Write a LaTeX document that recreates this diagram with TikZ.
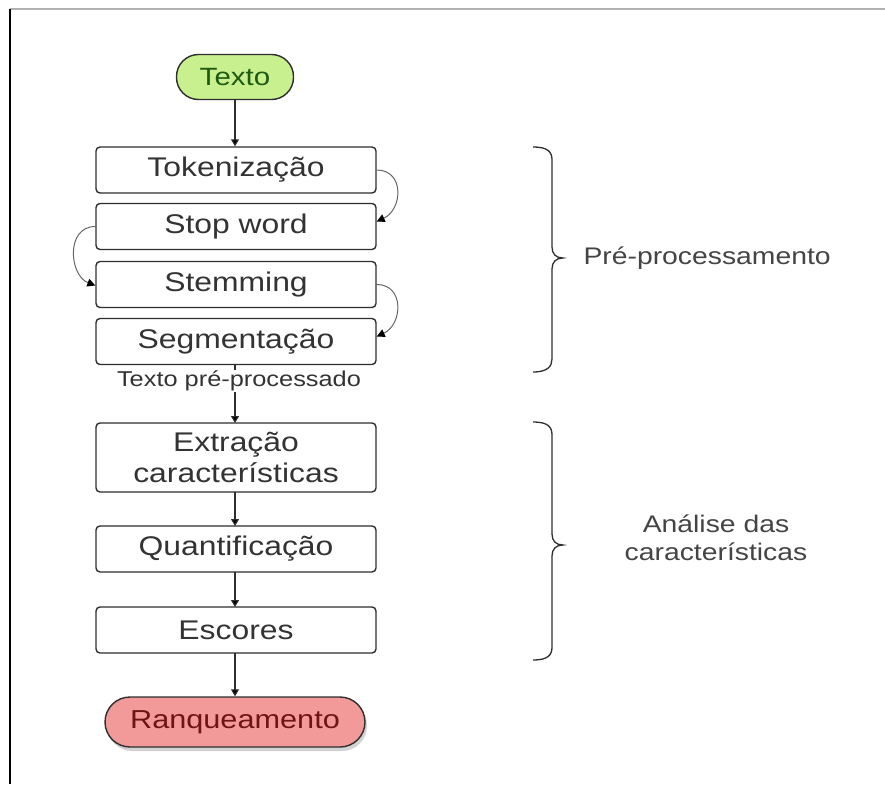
\documentclass[tikz,border=0pt]{standalone}
\usepackage{fontspec}
\setmainfont{Liberation Sans}[FakeStretch=1.18]
\usetikzlibrary{arrows.meta,shapes.geometric,shadows}
\definecolor{boxline}{HTML}{2E2E2E}
\definecolor{txtgray}{HTML}{333333}
\definecolor{lblgray}{HTML}{444444}
\definecolor{greenfill}{HTML}{C9F08F}
\definecolor{greentxt}{HTML}{1F5A12}
\definecolor{redfill}{HTML}{F29A9A}
\definecolor{redtxt}{HTML}{6E1414}
\tikzset{
  stepbox/.style={draw=boxline, line width=1.4pt, rounded corners=4pt, fill=white,
    minimum width=280pt, minimum height=46pt, text=txtgray, align=center,
    font=\fontsize{27}{31}\selectfont, inner sep=0pt},
  flow/.style={draw=boxline, line width=1.1pt, -{Triangle[length=7pt,width=8pt,fill=black]}},
  curv/.style={draw=gray!80!black, line width=1pt, -{Triangle[length=8pt,width=8pt,fill=black,color=black]}},
  brace/.style={draw=boxline, line width=1.3pt},
  sidelbl/.style={text=lblgray, font=\fontsize{24}{28}\selectfont, align=center}
}
\begin{document}
\begin{tikzpicture}[x=1pt,y=-1pt]
\useasboundingbox (0,0) rectangle (885,784);
% frame
\draw[gray!60, line width=1.5pt] (10,9) -- (885,9);
\draw[black, line width=1.8pt] (10,9) -- (10,784);
% nodes
\node[draw=boxline, line width=1.4pt, fill=greenfill, text=greentxt, rounded corners=22pt,
  minimum width=117pt, minimum height=45pt, font=\fontsize{25}{29}\selectfont, inner sep=0pt]
  (texto) at (235,77) {Texto};
\node[stepbox] (tok) at (236,170) {Tokenização};
\node[stepbox] (stop) at (236,226.5) {Stop word};
\node[stepbox] (stem) at (236,284.5) {Stemming};
\node[stepbox] (seg) at (236,341.5) {Segmentação};
\node[fill=white, text=txtgray, font=\fontsize{21.5}{25}\selectfont, inner sep=1pt] (lbl) at (239,381) {Texto pré-processado};
\node[stepbox, minimum height=69pt] (extr) at (236,457.5) {Extração\\características};
\node[stepbox] (quant) at (236,549) {Quantificação};
\node[stepbox] (esc) at (236,630) {Escores};
\node[rectangle, rounded corners=25pt, draw=boxline, line width=1.4pt, fill=redfill, text=redtxt,
  minimum width=260pt, minimum height=50pt, inner sep=0pt, font=\fontsize{26}{30}\selectfont,
  drop shadow={shadow xshift=2pt, shadow yshift=-4pt, fill=gray!70}]
  (rank) at (235,722) {Ranqueamento};
% vertical connectors
\coordinate (segb) at (235,364.5);
\coordinate (extt) at (235,423);
\draw[flow] (texto.south) -- (texto.south |- tok.north);
\draw[boxline, line width=1.1pt] (segb) -- (lbl.north -| segb);
\draw[flow] (lbl.south -| segb) -- (extt);
\draw[flow] (235,492) -- (235,526);
\draw[flow] (235,572) -- (235,607);
\draw[flow] (235,653) -- (rank.north);
% curved connectors
\draw[curv] ([yshift=0pt]tok.east) .. controls +(28,0) and +(26,-12) .. ([yshift=5pt]stop.east);
\draw[curv] ([yshift=0pt]stop.west) .. controls +(-30,0) and +(-26,-10) .. ([yshift=-1pt]stem.west);
\draw[curv] ([yshift=0pt]stem.east) .. controls +(28,0) and +(26,-12) .. ([yshift=5pt]seg.east);
% braces
\draw[brace] (533,147) .. controls (548,147) and (552,152) .. (552,160) -- (552,247)
  .. controls (552,254) and (556,258) .. (563,258) .. controls (556,258) and (552,262) .. (552,269)
  -- (552,359) .. controls (552,366) and (548,372) .. (533,372);
\draw[brace] (533,422) .. controls (548,422) and (552,427) .. (552,435) -- (552,534)
  .. controls (552,541) and (556,545) .. (563,545) .. controls (556,545) and (552,549) .. (552,556)
  -- (552,647) .. controls (552,655) and (548,660) .. (533,660);
\node[sidelbl, anchor=west] (pre) at (580,258) {Pré-processamento};
\node[sidelbl] (ana) at (716,538) {Análise das\\características};
\end{tikzpicture}
\end{document}
